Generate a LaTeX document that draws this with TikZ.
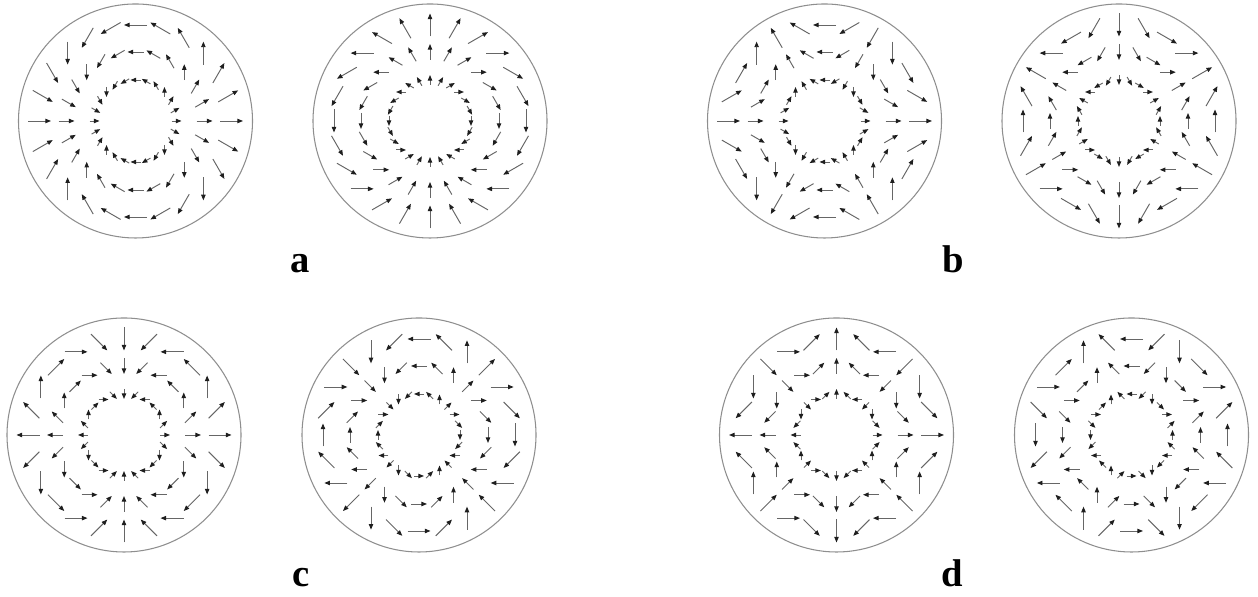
\documentclass[tikz,border=0pt]{standalone}
\usepackage{fontspec}
\setmainfont{Liberation Serif}
\usetikzlibrary{arrows.meta}
\definecolor{Rim}{HTML}{8E8E8E}
\definecolor{Shaft}{HTML}{666666}
\definecolor{Head}{HTML}{1E1E1E}

\begin{document}
\begin{tikzpicture}[x=0.02cm,y=0.02cm,
  every node/.style={inner sep=0pt,font=\fontsize{22}{26}\selectfont\bfseries},
  rim/.style={draw=Rim,line width=0.6pt},
  vec/.style={draw=Shaft,line width=0.55pt,-{Triangle[length=3.2pt,width=2.5pt,color=Head]}}]
\useasboundingbox (0,0) rectangle (1258,597);
\coordinate (aL) at (135.5,476);
\coordinate (aR) at (430,476);
\coordinate (bL) at (824.5,476);
\coordinate (bR) at (1119,476);
\coordinate (cL) at (124,162);
\coordinate (cR) at (419,162);
\coordinate (dL) at (836.5,162);
\coordinate (dR) at (1131.5,162);

% field angle on each ring: pol = m*az + ph
\foreach \c/\m/\ph in {aL/2/0,aR/2/-90,bL/-2/0,bR/-2/90,cL/3/0,cR/3/-90,dL/-3/0,dR/-3/90}{
  \begin{scope}[shift={(\c)}]
    \draw[rim] (0,0) circle (117);
    \foreach \r/\l in {41/10,69/16,96/23}
      \foreach \k in {0,...,23}{
        \pgfmathsetmacro\az{15*\k}
        \pgfmathsetmacro\pol{\m*\az+\ph}
        \draw[vec] (\az:\r) ++(\pol+180:\l/2) -- ++(\pol:\l);
      }
  \end{scope}
}

\node[anchor=base] (labA) at (300.5,324) {a};
\node[anchor=base] (labB) at (953.5,324) {b};
\node[anchor=base] (labC) at (301.5,10) {c};
\node[anchor=base] (labD) at (952.5,10) {d};
\end{tikzpicture}
\end{document}
